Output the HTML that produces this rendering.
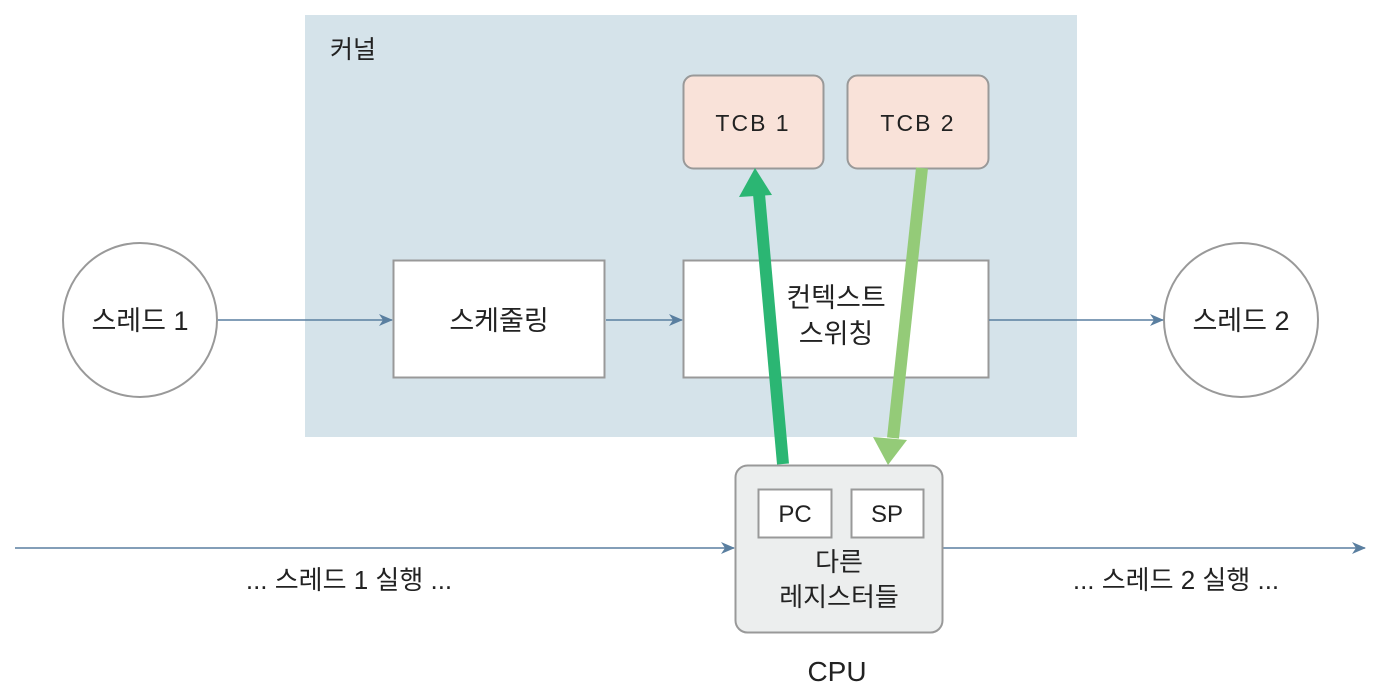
<!DOCTYPE html>
<html><head><meta charset="utf-8"><style>
html,body{margin:0;padding:0;background:#fff}
svg text{font-family:"Liberation Sans","Noto Sans CJK KR",sans-serif;fill:#222}
</style></head><body>
<svg width="1382" height="692" viewBox="0 0 1382 692" xmlns="http://www.w3.org/2000/svg">
<defs>
<marker id="a" markerWidth="14" markerHeight="12" refX="13" refY="6" orient="auto" markerUnits="userSpaceOnUse" viewBox="0 0 14 12">
<path d="M0,0 L14,6 L0,12 L4,6 z" fill="#5a7fa0"/></marker>
</defs>
<rect x="305" y="15" width="772" height="422" fill="#d5e3ea"/>
<text x="330" y="58" font-size="25">커널</text>
<rect x="683.5" y="75.5" width="140" height="93" rx="10" fill="#f9e2d9" stroke="#999" stroke-width="2"/>
<text x="753" y="131" font-size="23" text-anchor="middle" letter-spacing="2">TCB  1</text>
<rect x="847.5" y="75.5" width="141" height="93" rx="10" fill="#f9e2d9" stroke="#999" stroke-width="2"/>
<text x="918" y="131" font-size="23" text-anchor="middle" letter-spacing="2">TCB  2</text>
<rect x="393.5" y="260.5" width="211" height="117" fill="#fff" stroke="#999" stroke-width="2"/>
<text x="499" y="330" font-size="27" text-anchor="middle">스케줄링</text>
<rect x="683.5" y="260.5" width="305" height="117" fill="#fff" stroke="#999" stroke-width="2"/>
<text x="836" y="307" font-size="27" text-anchor="middle">컨텍스트</text>
<text x="836" y="343" font-size="27" text-anchor="middle">스위칭</text>
<circle cx="140" cy="320" r="77" fill="#fff" stroke="#999" stroke-width="2"/>
<text x="140" y="330" font-size="27" text-anchor="middle">스레드 1</text>
<circle cx="1241" cy="320" r="77" fill="#fff" stroke="#999" stroke-width="2"/>
<text x="1241" y="330" font-size="27" text-anchor="middle">스레드 2</text>
<g stroke="#5a7fa0" stroke-width="1.5" marker-end="url(#a)">
<line x1="218" y1="320" x2="392" y2="320"/>
<line x1="606" y1="320" x2="682" y2="320"/>
<line x1="989" y1="320" x2="1163" y2="320"/>
<line x1="15" y1="548" x2="734" y2="548"/>
<line x1="943" y1="548" x2="1365" y2="548"/>
</g>
<rect x="735.5" y="465.5" width="207" height="167" rx="12" fill="#eceeee" stroke="#999" stroke-width="2"/>
<rect x="758.5" y="489.5" width="73" height="48" fill="#fff" stroke="#999" stroke-width="2"/>
<text x="795" y="522" font-size="24" text-anchor="middle">PC</text>
<rect x="851.5" y="489.5" width="72" height="48" fill="#fff" stroke="#999" stroke-width="2"/>
<text x="887" y="522" font-size="24" text-anchor="middle">SP</text>
<text x="839" y="571" font-size="26" text-anchor="middle">다른</text>
<text x="839" y="606" font-size="26" text-anchor="middle">레지스터들</text>
<text x="837" y="681" font-size="28" text-anchor="middle">CPU</text>
<text x="349" y="589" font-size="26" text-anchor="middle">... 스레드 1 실행 ...</text>
<text x="1176" y="589" font-size="26" text-anchor="middle">... 스레드 2 실행 ...</text>
<line x1="783" y1="464" x2="759" y2="194" stroke="#2bb673" stroke-width="12"/>
<polygon points="755,168 739,197 772,195" fill="#2bb673"/>
<line x1="922" y1="168" x2="893" y2="438" stroke="#94cb78" stroke-width="12"/>
<polygon points="888,465 873,437 907,440" fill="#94cb78"/>
</svg>
</body></html>
